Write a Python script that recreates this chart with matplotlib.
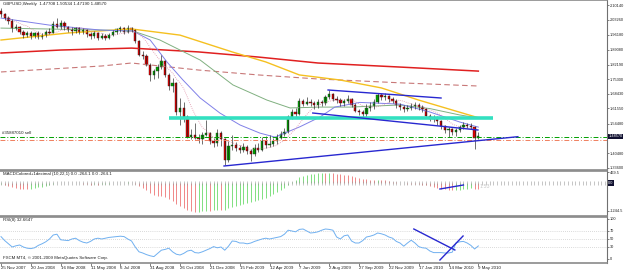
import numpy as np
import pandas as pd
import matplotlib
matplotlib.use('Agg')
import matplotlib.pyplot as plt

plt.rcParams['font.family'] = ['Liberation Sans', 'DejaVu Sans']

# weekly GBPUSD bars, 25 Nov 2007 .. 9 May 2010
closes = [2.057, 2.040, 2.028, 1.992, 1.998, 1.975, 1.962, 1.970, 1.955, 1.968,
          1.952, 1.960, 1.975, 1.972, 2.012, 2.000, 2.018, 1.998, 1.985, 1.978,
          1.992, 1.975, 1.985, 1.965, 1.955, 1.968, 1.948, 1.958, 1.945, 1.962,
          1.975, 1.988, 1.992, 1.975, 1.995, 1.985, 1.932, 1.868, 1.862, 1.822,
          1.772, 1.790, 1.812, 1.838, 1.772, 1.722, 1.735, 1.598, 1.620, 1.575,
          1.482, 1.492, 1.478, 1.470, 1.490, 1.500, 1.465, 1.455, 1.500, 1.470,
          1.372, 1.440, 1.445, 1.430, 1.420, 1.435, 1.418, 1.400, 1.430, 1.420,
          1.465, 1.445, 1.450, 1.465, 1.478, 1.495, 1.505, 1.575, 1.600, 1.590,
          1.650, 1.638, 1.648, 1.642, 1.632, 1.645, 1.640, 1.668, 1.685, 1.662,
          1.655, 1.640, 1.650, 1.660, 1.632, 1.605, 1.598, 1.590, 1.620, 1.625,
          1.645, 1.678, 1.668, 1.675, 1.658, 1.650, 1.632, 1.622, 1.612, 1.620,
          1.625, 1.630, 1.622, 1.612, 1.580, 1.565, 1.570, 1.555, 1.535, 1.515,
          1.520, 1.505, 1.515, 1.528, 1.538, 1.532, 1.528, 1.477, 1.4857]
highs = [2.088, 2.065, 2.050, 2.035, 2.010, 2.005, 1.985, 1.980, 1.978, 1.975,
         1.980, 1.970, 1.985, 1.992, 2.025, 2.040, 2.030, 2.025, 2.005, 1.998,
         2.000, 1.998, 1.992, 1.990, 1.975, 1.978, 1.975, 1.970, 1.965, 1.970,
         1.985, 1.995, 2.005, 2.000, 2.008, 2.000, 1.990, 1.935, 1.885, 1.870,
         1.830, 1.800, 1.825, 1.865, 1.842, 1.780, 1.760, 1.740, 1.665, 1.645,
         1.585, 1.520, 1.545, 1.495, 1.505, 1.560, 1.505, 1.475, 1.520, 1.510,
         1.478, 1.465, 1.490, 1.460, 1.445, 1.455, 1.445, 1.425, 1.450, 1.455,
         1.480, 1.485, 1.490, 1.478, 1.495, 1.510, 1.525, 1.585, 1.615, 1.620,
         1.665, 1.660, 1.668, 1.660, 1.650, 1.660, 1.655, 1.680, 1.700, 1.690,
         1.672, 1.665, 1.662, 1.680, 1.665, 1.640, 1.615, 1.610, 1.635, 1.645,
         1.660, 1.690, 1.690, 1.688, 1.680, 1.670, 1.660, 1.640, 1.632, 1.630,
         1.640, 1.645, 1.640, 1.632, 1.618, 1.590, 1.585, 1.578, 1.560, 1.540,
         1.530, 1.525, 1.525, 1.540, 1.550, 1.548, 1.545, 1.535, 1.50534]
lows = [2.045, 2.030, 2.012, 1.975, 1.982, 1.965, 1.945, 1.950, 1.940, 1.948,
        1.940, 1.942, 1.952, 1.965, 1.968, 1.992, 1.990, 1.985, 1.975, 1.962,
        1.970, 1.965, 1.965, 1.950, 1.940, 1.945, 1.935, 1.940, 1.935, 1.940,
        1.955, 1.965, 1.975, 1.965, 1.970, 1.975, 1.925, 1.860, 1.850, 1.815,
        1.745, 1.755, 1.760, 1.800, 1.765, 1.700, 1.695, 1.585, 1.540, 1.550,
        1.475, 1.470, 1.470, 1.455, 1.450, 1.485, 1.450, 1.435, 1.440, 1.440,
        1.350, 1.365, 1.420, 1.415, 1.405, 1.410, 1.400, 1.368, 1.390, 1.410,
        1.415, 1.430, 1.435, 1.440, 1.450, 1.470, 1.485, 1.500, 1.565, 1.575,
        1.585, 1.625, 1.630, 1.628, 1.615, 1.620, 1.625, 1.632, 1.660, 1.652,
        1.640, 1.628, 1.625, 1.640, 1.622, 1.598, 1.585, 1.575, 1.570, 1.605,
        1.615, 1.640, 1.655, 1.655, 1.645, 1.640, 1.620, 1.610, 1.600, 1.602,
        1.608, 1.612, 1.610, 1.598, 1.572, 1.555, 1.550, 1.540, 1.520, 1.500,
        1.480, 1.490, 1.485, 1.505, 1.520, 1.522, 1.518, 1.423, 1.4719]
first_open = 2.075
last_open = 1.47708

# moving averages (bar index, price)
blue_idx = [0, 13, 26.5, 35.4, 40, 44.5, 48.8, 53.4, 58.7, 64.1, 69.4, 73.5, 80.2, 85.5, 89.5, 96.2, 107, 115, 123, 128]
blue_val = [2.040, 2.007, 1.984, 1.979, 1.937, 1.834, 1.749, 1.665, 1.594, 1.538, 1.500, 1.481, 1.530, 1.575, 1.622, 1.644, 1.636, 1.599, 1.552, 1.528]
green_idx = [0, 26.5, 35.4, 42.6, 53.4, 62.2, 71.3, 77.5, 85.5, 93.6, 107, 115, 123, 128]
green_val = [1.993, 1.984, 1.979, 1.937, 1.843, 1.726, 1.655, 1.618, 1.622, 1.622, 1.632, 1.615, 1.585, 1.571]
yellow_idx = [0, 18, 35, 48, 62, 71, 80, 91, 102, 112, 128]
yellow_val = [1.937, 1.970, 1.989, 1.960, 1.881, 1.834, 1.773, 1.749, 1.712, 1.655, 1.572]
red_idx = [0, 16, 35, 53, 69, 85, 107, 128]
red_val = [1.876, 1.890, 1.899, 1.881, 1.857, 1.829, 1.810, 1.791]
dash_idx = [0, 27, 35, 53, 69, 85, 107, 128]
dash_val = [1.787, 1.815, 1.829, 1.796, 1.773, 1.754, 1.736, 1.721]

macd = [-60, -110, -150, -190, -220, -250, -260, -270, -250, -220,
        -200, -160, -120, -90, -40, -20, 10, 20, 15, 0,
        -10, -20, -30, -50, -70, -60, -70, -60, -50, -40,
        -20, 0, 20, 10, 30, 20, -30, -130, -230, -330,
        -450, -540, -580, -590, -640, -720, -790, -950, -1020, -1100,
        -1220, -1260, -1280, -1270, -1250, -1230, -1240, -1220, -1180, -1200,
        -1180, -1100, -1050, -1010, -980, -930, -900, -860, -800, -760,
        -700, -650, -590, -500, -420, -320, -220, -80, 60, 150,
        250, 300, 340, 380, 400, 430, 450, 440, 460, 450,
        420, 390, 360, 340, 310, 270, 230, 190, 170, 150,
        140, 150, 140, 120, 90, 60, 30, 10, -10, -30,
        -40, -50, -60, -80, -110, -150, -180, -210, -250, -280,
        -310, -320, -310, -290, -270, -250, -240, -250, -264.1]

rsi = [56, 46, 38, 30, 33, 35, 30, 27, 26, 28,
       34, 38, 43, 50, 60, 62, 48, 47, 46, 50,
       52, 46, 42, 40, 44, 50, 52, 50, 52, 54,
       55, 56, 57, 56, 50, 45, 30, 18, 15, 11,
       8, 6, 14, 22, 24, 27, 18, 12, 10, 14,
       20, 22, 16, 15, 18, 22, 26, 31, 28, 30,
       22, 32, 45, 44, 40, 40, 38, 40, 44, 47,
       50, 52, 50, 52, 54, 56, 62, 72, 70, 68,
       74, 75, 70, 65, 66, 68, 72, 75, 74, 72,
       55, 50, 58, 60, 45, 40, 40, 46, 55, 57,
       60, 65, 63, 60, 55, 52, 44, 40, 32, 40,
       47, 40, 31, 28, 27, 20, 16, 16, 16, 15,
       15, 17, 40, 43, 44, 40, 34, 25, 32.66]

date_labels = ['25 Nov 2007', '20 Jan 2008', '16 Mar 2008', '11 May 2008', '6 Jul 2008',
               '31 Aug 2008', '26 Oct 2008', '21 Dec 2008', '15 Feb 2009', '12 Apr 2009',
               '7 Jun 2009', '2 Aug 2009', '27 Sep 2009', '22 Nov 2009', '17 Jan 2010',
               '14 Mar 2010', '9 May 2010']
price_ticks = [2.10140, 2.03260, 1.96180, 1.89080, 1.82190, 1.75300, 1.68430,
               1.61550, 1.54480, 1.40480, 1.33600]
macd_ticks = [469.5, -1244.5]
rsi_ticks = [100, 70, 50, 30, 0]

W, H = 625, 271
FS = 3.2
FSR = 2.75


def rect(x0, y0, x1, y1):
    return [x0 / W, 1 - y1 / H, (x1 - x0) / W, (y1 - y0) / H]


def style(ax):
    ax.set_facecolor('white')
    for s in ['top', 'bottom']:
        ax.spines[s].set_color('#8a8a8a')
        ax.spines[s].set_linewidth(1.2)
    ax.spines['left'].set_visible(False)
    ax.spines['right'].set_color('#707070')
    ax.spines['right'].set_linewidth(0.8)
    ax.yaxis.tick_right()
    ax.tick_params(axis='y', length=1.5, width=0.4, pad=0.5, labelsize=FSR, colors='#202020')
    ax.set_xlim(-0.27, 162.5)


fig = plt.figure(figsize=(W / 100, H / 100), dpi=100)
ax = fig.add_axes(rect(0, 0, 607, 170))
ax2 = fig.add_axes(rect(0, 171, 607, 216))
ax3 = fig.add_axes(rect(0, 217, 607, 263))
for a in (ax, ax2, ax3):
    style(a)

# ---- price panel
x = np.arange(len(closes))
c = np.array(closes)
o = np.array([first_open] + closes[:-1])
o[-1] = last_open
up = c >= o

ax.plot(red_idx, red_val, color='#e02020', lw=1.1)
ax.plot(dash_idx, dash_val, color='#c87878', lw=0.8, ls=(0, (5, 3)))
ax.plot(yellow_idx, yellow_val, color='#f5c020', lw=1.0)
ax.plot(green_idx, green_val, color='#80b080', lw=0.7)
ax.plot(blue_idx, blue_val, color='#8080e8', lw=0.7)
ma8 = pd.Series(closes).rolling(8, min_periods=1).mean()
ax.plot(x, ma8, color='#e090a8', lw=0.6, ls=(0, (1, 1.5)))

ax.vlines(x, lows, highs, color='#202020', lw=0.45)
ax.bar(x[up], np.maximum((c - o)[up], 0.002), bottom=o[up], width=0.62,
       color='#00a000', edgecolor='#205020', lw=0.3)
ax.bar(x[~up], np.maximum((o - c)[~up], 0.002), bottom=c[~up], width=0.62,
       color='#e00000', edgecolor='#501010', lw=0.3)

ax.plot([45, 132], [1.571, 1.571], color='#33e0c0', lw=2.6, solid_capstyle='butt')
ax.axhline(1.4825, color='#00a000', lw=0.7, ls=(0, (5, 2, 1, 2)))
ax.axhline(1.4665, color='#f08060', lw=0.7, ls=(0, (5, 2, 1, 2)))

ax.plot([59.8, 138.6], [1.3454, 1.4830], color='#2828d0', lw=1.0)
ax.plot([87.7, 118], [1.7023, 1.6647], color='#2828d0', lw=1.0)
ax.plot([83.6, 127.9], [1.5942, 1.5144], color='#2828d0', lw=1.0)

ax.set_ylim(1.3266, 2.1249)
ax.set_yticks(price_ticks)
ax.set_yticklabels(['%.5f' % v for v in price_ticks])
ax.set_xticks([])
ax.text(1.002, 1.4857, '1.48570', transform=ax.get_yaxis_transform(), fontsize=FSR,
        color='white', va='center', ha='left',
        bbox=dict(boxstyle='square,pad=0.15', fc='#101030', ec='none'))

# ---- MACD panel
mc = np.array(macd)
rising = np.r_[True, mc[1:] >= mc[:-1]]
ax2.vlines(x[rising], 0, mc[rising], color='#80e080', lw=0.7)
ax2.vlines(x[~rising], 0, mc[~rising], color='#f08888', lw=0.7)
zx = np.arange(0, 163)
ax2.plot(zx, np.zeros(len(zx)), ls='none', marker='|', ms=2.2, mew=0.4, color='#9a9a9a')
ax2.plot([117.7, 124], [-267, -89], color='#2828d0', lw=1.0)
ax2.text(128.2, -170, '1.53', fontsize=FS + 0.6, color='#c8c8c8', va='center')
ax2.set_ylim(-1467, 533)
ax2.set_yticks(macd_ticks)
ax2.set_yticklabels(['469.5', '-1244.5'])
ax2.set_xticks([])
ax2.text(1.002, 0, '0.0', transform=ax2.get_yaxis_transform(), fontsize=FSR,
         color='white', va='center', ha='left',
         bbox=dict(boxstyle='square,pad=0.15', fc='#101030', ec='none'))

# ---- RSI panel
for lvl in (70, 50, 30):
    ax3.axhline(lvl, color='#b8b8b8', lw=0.5, ls=(0, (1, 2)))
ax3.plot(x, rsi, color='#70b0f0', lw=0.7)
ax3.plot([110.7, 121.7], [75, 22.5], color='#2828d0', lw=1.0)
ax3.plot([117.7, 123.9], [-2.5, 57.5], color='#2828d0', lw=1.0)
ax3.set_ylim(-10, 105)
ax3.set_yticks(rsi_ticks)
ax3.set_yticklabels([str(v) for v in rsi_ticks])
ax3.set_xticks(np.arange(0, 129, 8))
ax3.set_xticklabels(date_labels, ha='left')
ax3.tick_params(axis='x', length=2, width=0.4, pad=0.5, labelsize=FS, colors='#202020')

# ---- labels
def ftext(px, py, s):
    fig.text(px / W, 1 - py / H, s, fontsize=FS, color='#202020', va='center', ha='left')

ftext(3, 4, 'GBPUSD,Weekly  1.47708 1.50534 1.47190 1.48570')
ftext(2, 133, '#35887010 sell')
ftext(3, 173.5, 'MACDColored+1decimal (10,22,1) 0.0 -264.1 0.0 -264.1')
ftext(3, 220.5, 'RSI(8) 32.6647')
ftext(3, 258.5, 'FXCM MT4, \u00a9 2001-2009 MetaQuotes Software Corp.')

fig.savefig('out.png', dpi=100)
